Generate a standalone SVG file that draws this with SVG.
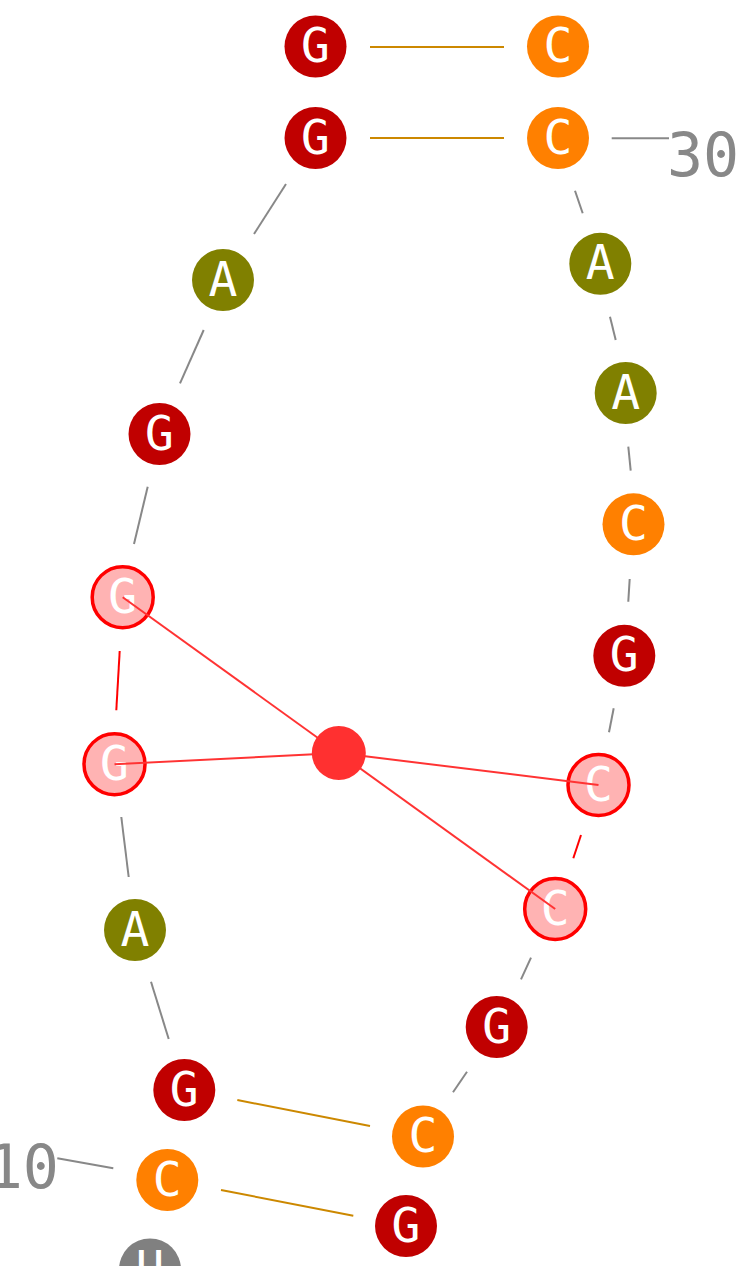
<svg xmlns="http://www.w3.org/2000/svg" width="750" height="1266" viewBox="0 0 750 1266">
<style>
  .n circle { stroke: none; }
  .G { fill: #c00000; }
  .C { fill: #ff8000; }
  .A { fill: #808000; }
  .U { fill: #808080; }
  .hl { fill: #ffb3b3; stroke: #ff0000; stroke-width: 3.5; }
  .lbl { font-family: "DejaVu Sans Mono", "Liberation Mono", monospace; font-size: 48px; fill: #ffffff; text-anchor: middle; }
  .num { font-family: "DejaVu Sans Mono", "Liberation Mono", monospace; font-size: 60px; fill: #888888; }
  .bb { stroke: #888888; stroke-width: 2; fill: none; }
  .bbh { stroke: #ff0000; stroke-width: 2; fill: none; }
  .pair { stroke: #cc8800; stroke-width: 2; fill: none; }
  .inter { stroke: #ff3333; stroke-width: 2; fill: none; }
</style>
<rect width="750" height="1266" fill="#ffffff"/>
<g id="nodes">
  <g id="n1"><circle class="G" cx="315.5" cy="46.5" r="31"/><text class="lbl" x="315.5" y="62">G</text></g>
  <g id="n2"><circle class="C" cx="558" cy="46.5" r="31"/><text class="lbl" x="558" y="62">C</text></g>
  <g id="n3"><circle class="G" cx="315.5" cy="138" r="31"/><text class="lbl" x="315.5" y="153.5">G</text></g>
  <g id="n4"><circle class="C" cx="558" cy="138" r="31"/><text class="lbl" x="558" y="153.5">C</text></g>
  <g id="n5"><circle class="A" cx="223" cy="280" r="31"/><text class="lbl" x="223" y="295.5">A</text></g>
  <g id="n6"><circle class="G" cx="159.5" cy="434" r="31"/><text class="lbl" x="159.5" y="449.5">G</text></g>
  <g id="n7"><circle class="hl" cx="122.7" cy="597.2" r="30.5"/><text class="lbl" x="122.7" y="612.7">G</text></g>
  <g id="n8"><circle class="hl" cx="114.5" cy="764.2" r="30.5"/><text class="lbl" x="114.5" y="779.7">G</text></g>
  <g id="n9"><circle class="A" cx="135" cy="930" r="31"/><text class="lbl" x="135" y="945.5">A</text></g>
  <g id="n10"><circle class="G" cx="184.3" cy="1090" r="31"/><text class="lbl" x="184.3" y="1105.5">G</text></g>
  <g id="n11"><circle class="C" cx="167.3" cy="1180" r="31"/><text class="lbl" x="167.3" y="1195.5">C</text></g>
  <g id="n12"><circle class="U" cx="150" cy="1269.5" r="31"/><text class="lbl" x="150" y="1285">U</text></g>
  <g id="n13"><circle class="G" cx="406" cy="1226" r="31"/><text class="lbl" x="406" y="1241.5">G</text></g>
  <g id="n14"><circle class="C" cx="423" cy="1136.5" r="31"/><text class="lbl" x="423" y="1152">C</text></g>
  <g id="n15"><circle class="G" cx="496.7" cy="1027" r="31"/><text class="lbl" x="496.7" y="1042.5">G</text></g>
  <g id="n16"><circle class="hl" cx="555.2" cy="909" r="30.5"/><text class="lbl" x="555.2" y="924.5">C</text></g>
  <g id="n17"><circle class="hl" cx="598.5" cy="785" r="30.5"/><text class="lbl" x="598.5" y="800.5">C</text></g>
  <g id="n18"><circle class="G" cx="624.3" cy="655.8" r="31"/><text class="lbl" x="624.3" y="671.3">G</text></g>
  <g id="n19"><circle class="C" cx="633.5" cy="524.3" r="31"/><text class="lbl" x="633.5" y="539.8">C</text></g>
  <g id="n20"><circle class="A" cx="625.7" cy="393" r="31"/><text class="lbl" x="625.7" y="408.5">A</text></g>
  <g id="n21"><circle class="A" cx="600.3" cy="263.8" r="31"/><text class="lbl" x="600.3" y="279.3">A</text></g>
  <g id="label30"><text class="num" x="667" y="176">30</text></g>
  <g id="label10"><text class="num" x="59" y="1188" text-anchor="end">10</text></g>
</g>
<g id="connectors">
  <line class="pair" x1="370" y1="47" x2="504" y2="47"/>
  <line class="pair" x1="370" y1="138" x2="504" y2="138"/>
  <line class="pair" x1="237.3" y1="1100" x2="370" y2="1126"/>
  <line class="pair" x1="221" y1="1190" x2="353.3" y2="1215.7"/>
  <line class="bb" x1="286" y1="184" x2="254" y2="234"/>
  <line class="bb" x1="203.7" y1="330" x2="180" y2="383.3"/>
  <line class="bb" x1="147.7" y1="486.7" x2="134" y2="544"/>
  <line class="bbh" x1="119.7" y1="651" x2="116.3" y2="710.3"/>
  <line class="bb" x1="121.3" y1="817" x2="128.7" y2="877"/>
  <line class="bb" x1="151" y1="981.7" x2="168.7" y2="1039"/>
  <line class="bb" x1="453" y1="1092.3" x2="467" y2="1071.7"/>
  <line class="bb" x1="521" y1="979.3" x2="531" y2="957.7"/>
  <line class="bbh" x1="573.3" y1="858.3" x2="581" y2="835"/>
  <line class="bb" x1="609" y1="732.3" x2="613.7" y2="708.3"/>
  <line class="bb" x1="628.3" y1="601.7" x2="629.7" y2="579"/>
  <line class="bb" x1="630.7" y1="470.7" x2="628.3" y2="446.7"/>
  <line class="bb" x1="615.7" y1="340" x2="610" y2="316.7"/>
  <line class="bb" x1="582.7" y1="213.3" x2="575" y2="190.7"/>
  <line class="bb" x1="611.7" y1="138.3" x2="669" y2="138.3"/>
  <line class="bb" x1="57.3" y1="1158.3" x2="113.3" y2="1168.3"/>
  <line class="inter" x1="338.8" y1="753" x2="122.7" y2="597.2"/>
  <line class="inter" x1="338.8" y1="753" x2="114.5" y2="764.2"/>
  <line class="inter" x1="338.8" y1="753" x2="598.5" y2="785"/>
  <line class="inter" x1="338.8" y1="753" x2="555.2" y2="909"/>
</g>
<g id="center">
  <circle cx="338.8" cy="753" r="27" fill="#ff3030"/>
</g>
</svg>
